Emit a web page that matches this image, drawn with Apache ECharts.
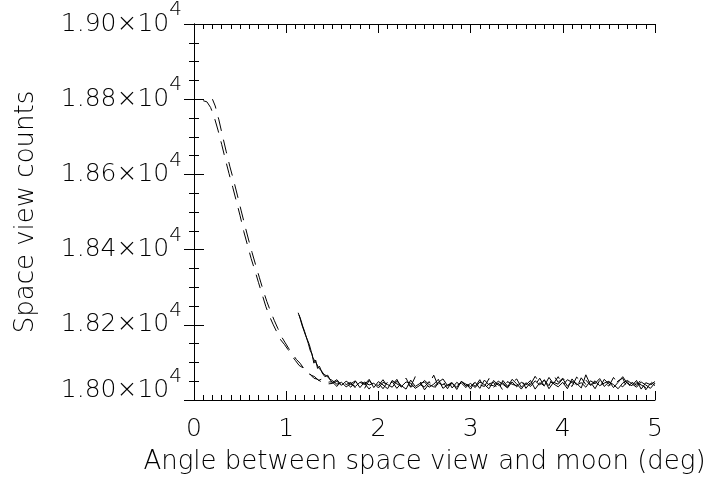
<!DOCTYPE html>
<html><head><meta charset="utf-8">
<script src="https://cdn.jsdelivr.net/npm/echarts@6/dist/echarts.min.js"></script>
<style>html,body{margin:0;padding:0;background:#fff}#c{width:713px;height:480px}</style>
</head><body><div id="c"></div>
<script>
const xTickLabels = ['0','1','2','3','4','5'];
const yTickLabels = ['1.80','1.82','1.84','1.86','1.88','1.90'];
const xTitle = 'Angle between space view and moon (deg)';
const yTitle = 'Space view counts';

// descending parts
const angleA = [0.10,0.14,0.18,0.22,0.26,0.30,0.34,0.38,0.42,0.46,0.50,0.54,0.58,0.62,0.66,0.70,0.74,0.78,0.82,0.86,0.90,0.94,0.98,1.02,1.06,1.10,1.14,1.18,1.22,1.26,1.30,1.34,1.38,1.42,1.46];
const countA = [18796,18793,18778,18752,18718,18680,18640,18602,18566,18528,18490,18448,18412,18376,18345,18312,18280,18248,18222,18200,18180,18160,18148,18134,18118,18105,18092,18086,18072,18068,18058,18055,18048,18050,18043];
const angleB = [0.20,0.23,0.27,0.31,0.35,0.39,0.43,0.47,0.51,0.55,0.59,0.63,0.67,0.71,0.75,0.79,0.83,0.87,0.91,0.95,0.99,1.03,1.07,1.11,1.15,1.19,1.23,1.27,1.31,1.35,1.39,1.43,1.47];
const countB = [18800,18782,18745,18702,18660,18620,18584,18545,18505,18466,18428,18392,18358,18325,18292,18262,18236,18212,18190,18168,18152,18136,18122,18108,18098,18084,18078,18066,18062,18052,18056,18046,18048];
const angleD = [1.13,1.15,1.17,1.19,1.21,1.23,1.25,1.27,1.29,1.31,1.33,1.35,1.38,1.41,1.44,1.47];
const countD = [18232,18218,18200,18186,18172,18160,18148,18130,18112,18104,18096,18086,18078,18068,18064,18056];
const angleE = [1.14,1.16,1.18,1.20,1.22,1.24,1.26,1.28,1.30,1.32,1.34,1.36,1.39,1.42,1.45,1.48];
const countE = [18226,18212,18196,18182,18166,18150,18132,18122,18098,18106,18084,18090,18072,18062,18066,18052];

// flat (noise) parts
const noiseAngles = [1.50,1.55,1.60,1.65,1.70,1.75,1.80,1.85,1.90,1.95,2.00,2.05,2.10,2.15,2.20,2.25,2.30,2.35,2.40,2.45,2.50,2.55,2.60,2.65,2.70,2.75,2.80,2.85,2.90,2.95,3.00,3.05,3.10,3.15,3.20,3.25,3.30,3.35,3.40,3.45,3.50,3.55,3.60,3.65,3.70,3.75,3.80,3.85,3.90,3.95,4.00,4.05,4.10,4.15,4.20,4.25,4.30,4.35,4.40,4.45,4.50,4.55,4.60,4.65,4.70,4.75,4.80,4.85,4.90,4.95,5.00];
const noiseA = [18044,18050,18038,18046,18034,18049,18040,18031,18052,18037,
18045,18030,18048,18039,18055,18033,18044,18036,18062,18041,
18035,18049,18028,18046,18040,18053,18032,18047,18038,18044,
18029,18051,18040,18036,18057,18034,18045,18026,18049,18042,
18038,18055,18031,18047,18040,18058,18036,18050,18044,18062,
18039,18054,18047,18033,18059,18041,18048,18030,18052,18045,
18037,18060,18043,18035,18049,18028,18046,18040,18033,18050,18038];
const noiseB = [18048,18036,18053,18041,18047,18032,18050,18044,18029,18046,
18038,18054,18035,18049,18031,18045,18058,18034,18042,18050,
18027,18043,18066,18037,18048,18030,18051,18039,18045,18033,
18049,18036,18054,18030,18043,18047,18025,18052,18037,18046,
18056,18034,18049,18041,18063,18045,18052,18038,18066,18047,
18058,18044,18036,18061,18049,18053,18039,18046,18033,18055,
18042,18036,18051,18058,18031,18047,18039,18054,18027,18044,18035];
const noiseD = [18052,18042,18047,18035,18043,18051,18033,18048,18040,18045,
18032,18047,18041,18034,18050,18038,18029,18053,18036,18044,
18048,18034,18042,18055,18031,18040,18046,18028,18050,18037,
18044,18033,18048,18041,18030,18052,18039,18046,18034,18055,
18043,18029,18046,18036,18051,18040,18054,18030,18047,18042,
18056,18037,18049,18044,18032,18067,18040,18051,18038,18045,
18050,18033,18047,18062,18044,18038,18052,18029,18046,18041,18049];
const noiseE = [18046,18054,18039,18050,18042,18036,18047,18041,18055,18033,
18049,18040,18030,18052,18043,18036,18048,18045,18031,18039,
18052,18041,18035,18047,18056,18038,18044,18034,18049,18042,
18036,18047,18031,18053,18040,18038,18050,18042,18032,18048,
18035,18047,18040,18052,18029,18046,18038,18060,18043,18035,
18047,18030,18056,18040,18046,18034,18051,18044,18057,18036,
18048,18041,18030,18045,18052,18043,18034,18048,18040,18031,18045];

function build(ang, cnt, nang, ncnt) {
  const out = ang.map((a, i) => [a, cnt[i]]);
  nang.forEach((a, i) => out.push([a, ncnt[i]]));
  return out;
}

const FONT = 'DejaVu Sans';
const FW = 200;
const TXT = '#000';
const chart = echarts.init(document.getElementById('c'), null, {renderer: 'canvas'});
const lineBase = {type: 'line', showSymbol: false, symbol: 'none', animation: false, silent: true};
const tickCommon = {
  axisLine: {show: true, lineStyle: {color: '#000', width: 1}},
  splitLine: {show: false}
};
chart.setOption({
  backgroundColor: '#fff',
  animation: false,
  grid: {left: 194, right: 58, top: 20, bottom: 74, containLabel: false},
  xAxis: [
    Object.assign({
      type: 'value', min: 0, max: 5, interval: 1, position: 'bottom',
      axisTick: {show: true, inside: true, length: 9, lineStyle: {color: '#000'}},
      minorTick: {show: true, splitNumber: 10, length: 5, lineStyle: {color: '#000'}},
      axisLabel: {show: true, margin: 17, fontFamily: FONT, fontWeight: FW, fontSize: 25, color: TXT,
        formatter: (v, i) => xTickLabels[Math.round(v)]},
      name: xTitle, nameLocation: 'middle', nameGap: 49,
      nameTextStyle: {fontFamily: FONT, fontWeight: FW, fontSize: 26, color: TXT}
    }, tickCommon),
    Object.assign({
      type: 'value', min: 0, max: 5, interval: 1, position: 'top',
      axisTick: {show: true, inside: true, length: 9, lineStyle: {color: '#000'}},
      minorTick: {show: true, splitNumber: 10, length: 5, lineStyle: {color: '#000'}},
      axisLabel: {show: false}
    }, tickCommon)
  ],
  yAxis: [
    Object.assign({
      type: 'value', min: 18000, max: 19000, interval: 200, position: 'left',
      axisTick: {show: true, inside: true, length: 10, lineStyle: {color: '#000'}},
      minorTick: {show: true, splitNumber: 4, length: 5, lineStyle: {color: '#000'}},
      axisLabel: {show: true, margin: 12,
        formatter: (v) => {
          const k = Math.round((v - 18000) / 200);
          return k === 0
            ? '{m0|' + yTickLabels[k] + '×10}{s0|4}'
            : '{m|' + yTickLabels[k] + '×10}{s|4}';
        },
        rich: {
          m: {fontFamily: FONT, fontWeight: FW, fontSize: 25, color: TXT},
          s: {fontFamily: FONT, fontWeight: FW, fontSize: 20, color: TXT, padding: [0, 0, 28, 0]},
          m0: {fontFamily: FONT, fontWeight: FW, fontSize: 25, color: TXT, padding: [0, 0, 19, 0]},
          s0: {fontFamily: FONT, fontWeight: FW, fontSize: 20, color: TXT, padding: [0, 0, 47, 0]}
        }},
      name: yTitle, nameLocation: 'middle', nameGap: 155, nameRotate: 90,
      nameTextStyle: {fontFamily: FONT, fontWeight: FW, fontSize: 26, color: TXT}
    }, tickCommon),
    Object.assign({
      type: 'value', min: 18000, max: 19000, interval: 200, position: 'right',
      axisTick: {show: true, inside: true, length: 10, lineStyle: {color: '#000'}},
      minorTick: {show: true, splitNumber: 4, length: 5, lineStyle: {color: '#000'}},
      axisLabel: {show: false}
    }, tickCommon)
  ],
  series: [
    Object.assign({}, lineBase, {data: build(angleA, countA, noiseAngles, noiseA),
      lineStyle: {color: '#000', width: 1, type: [14, 9]}}),
    Object.assign({}, lineBase, {data: build(angleB, countB, noiseAngles, noiseB),
      lineStyle: {color: '#000', width: 1, type: [14, 9], dashOffset: 4}}),
    Object.assign({}, lineBase, {data: build(angleD, countD, noiseAngles, noiseD),
      lineStyle: {color: '#000', width: 1}}),
    Object.assign({}, lineBase, {data: build(angleE, countE, noiseAngles, noiseE),
      lineStyle: {color: '#000', width: 1}})
  ]
});
</script></body></html>
